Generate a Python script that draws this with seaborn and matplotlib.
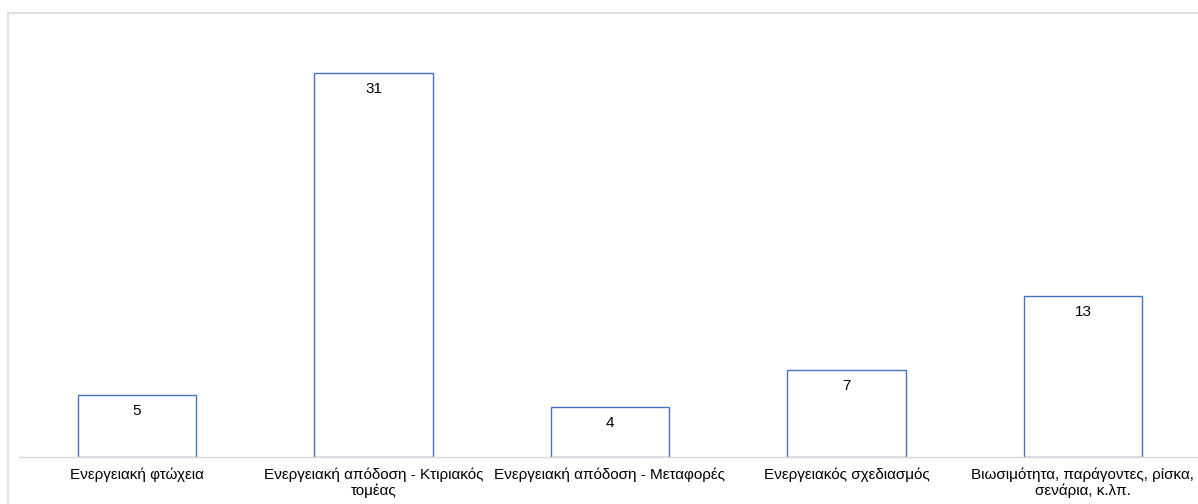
import matplotlib
matplotlib.use("Agg")
import matplotlib.pyplot as plt
import seaborn as sns
import pandas as pd
from matplotlib.lines import Line2D

categories = [
    "Ενεργειακή φτώχεια",
    "Ενεργειακή απόδοση - Κτιριακός\nτομέας",
    "Ενεργειακή απόδοση - Μεταφορές",
    "Ενεργειακός σχεδιασμός",
    "Βιωσιμότητα, παράγοντες, ρίσκα,\nσενάρια, κ.λπ.",
]
counts = [5, 31, 4, 7, 13]

sns.set_theme(style="white")
plt.rcParams["font.family"] = ["Liberation Sans", "DejaVu Sans"]

df = pd.DataFrame({"category": categories, "count": counts})

fig = plt.figure(figsize=(11.98, 5.04), dpi=100)
ax = fig.add_axes([0.01565, 0.0933, 0.987, 0.867])

sns.barplot(data=df, x="category", y="count", color="white", saturation=1,
            edgecolor="#4472C4", linewidth=1.0, width=0.5, ax=ax)

# value labels just inside the top of each bar
for i, v in enumerate(counts):
    ax.annotate(str(v), (i, v), xytext=(0, -11.5), textcoords="offset points",
                ha="center", va="center", fontsize=11, color="#000000")

ax.set_ylim(0, 35.27)
ax.set_xlim(-0.5, len(categories) - 0.5)
ax.set_xlabel("")
ax.set_ylabel("")
ax.set_yticks([])
ax.tick_params(axis="x", length=0, pad=7.5, labelsize=11, labelcolor="#000000")
for lbl in ax.get_xticklabels():
    lbl.set_linespacing(1.1)
for s in ["top", "right", "left"]:
    ax.spines[s].set_visible(False)
ax.spines["bottom"].set_color("#d9d9d9")
ax.spines["bottom"].set_linewidth(1.0)

# light frame around the chart area
fig.add_artist(Line2D([8 / 1198, 1], [1 - 13 / 504, 1 - 13 / 504],
                      transform=fig.transFigure, color="#d9d9d9", lw=1.2))
fig.add_artist(Line2D([8 / 1198, 8 / 1198], [0, 1 - 13 / 504],
                      transform=fig.transFigure, color="#d9d9d9", lw=1.2))

fig.savefig("out.png", dpi=100, facecolor="white")
